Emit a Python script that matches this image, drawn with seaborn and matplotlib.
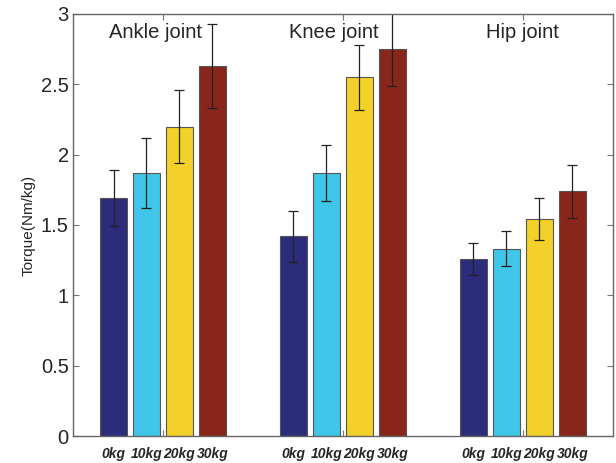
import matplotlib
matplotlib.use('Agg')
import matplotlib.pyplot as plt
import numpy as np
import pandas as pd
import seaborn as sns

joints = ['Ankle joint', 'Knee joint', 'Hip joint']
loads = ['0kg', '10kg', '20kg', '30kg']
torque = [[1.69, 1.87, 2.20, 2.63],
          [1.42, 1.87, 2.55, 2.75],
          [1.26, 1.33, 1.54, 1.74]]
err = [[0.20, 0.25, 0.26, 0.30],
       [0.18, 0.20, 0.23, 0.26],
       [0.115, 0.125, 0.15, 0.19]]
colors = ['#2b2c7a', '#40c6e8', '#f4d02a', '#88261c']
yticks = [0, 0.5, 1, 1.5, 2, 2.5, 3]
ytick_labels = ['0', '0.5', '1', '1.5', '2', '2.5', '3']

sns.set_style('ticks')
plt.rcParams['font.family'] = ['Liberation Sans', 'DejaVu Sans']

rows = []
for j, joint in enumerate(joints):
    for k, load in enumerate(loads):
        rows.append({'joint': joint, 'load': load,
                     'torque': torque[j][k], 'err': err[j][k]})
df = pd.DataFrame(rows)

fig = plt.figure(figsize=(6.16, 4.63), dpi=100)
ax = fig.add_axes([0.1185, 0.0583, 0.8765, 0.9115])

sns.barplot(data=df, x='joint', y='torque', hue='load', order=joints,
            hue_order=loads, palette=colors, saturation=1, width=0.733,
            gap=0.2, errorbar=None, edgecolor='#555555', linewidth=0.8,
            legend=False, ax=ax)

# error bars + kg labels at bar centers (patches come hue by hue)
centers = []
for k, load in enumerate(loads):
    for j, joint in enumerate(joints):
        p = ax.patches[k * len(joints) + j]
        xc = p.get_x() + p.get_width() / 2
        centers.append((xc, load))
        ax.errorbar(xc, torque[j][k], yerr=err[j][k], fmt='none',
                    ecolor='#222222', elinewidth=0.9, capsize=3.5,
                    capthick=0.9)

centers.sort()
ax.set_xticks([c[0] for c in centers], minor=True)
ax.set_xticklabels([c[1] for c in centers], minor=True,
                   fontsize=10, fontweight='bold', fontstyle='italic')
ax.set_xticks(range(len(joints)))
ax.set_xticklabels([])
ax.tick_params(axis='x', which='minor', length=0, pad=8)
ax.tick_params(axis='x', which='major', direction='in', length=4,
               top=True, color='#777777')

label_off = [-0.04, -0.05, 0.0]
for j, joint in enumerate(joints):
    ax.text(j + label_off[j], 2.865, joint, ha='center', va='center',
            fontsize=14.5)

ax.set_xlim(-0.5, 2.5)
ax.set_ylim(0, 3)
ax.set_yticks(yticks)
ax.set_yticklabels(ytick_labels, fontsize=14.5)
ax.tick_params(axis='y', direction='in', length=4, right=True, pad=3,
               color='#777777')
ax.set_xlabel('')
ax.set_ylabel('Torque(Nm/kg)', fontsize=11, labelpad=4)
for s in ax.spines.values():
    s.set_visible(True)
    s.set_color('#666666')
    s.set_linewidth(1.0)

plt.savefig('out.png', dpi=100)
plt.close()
